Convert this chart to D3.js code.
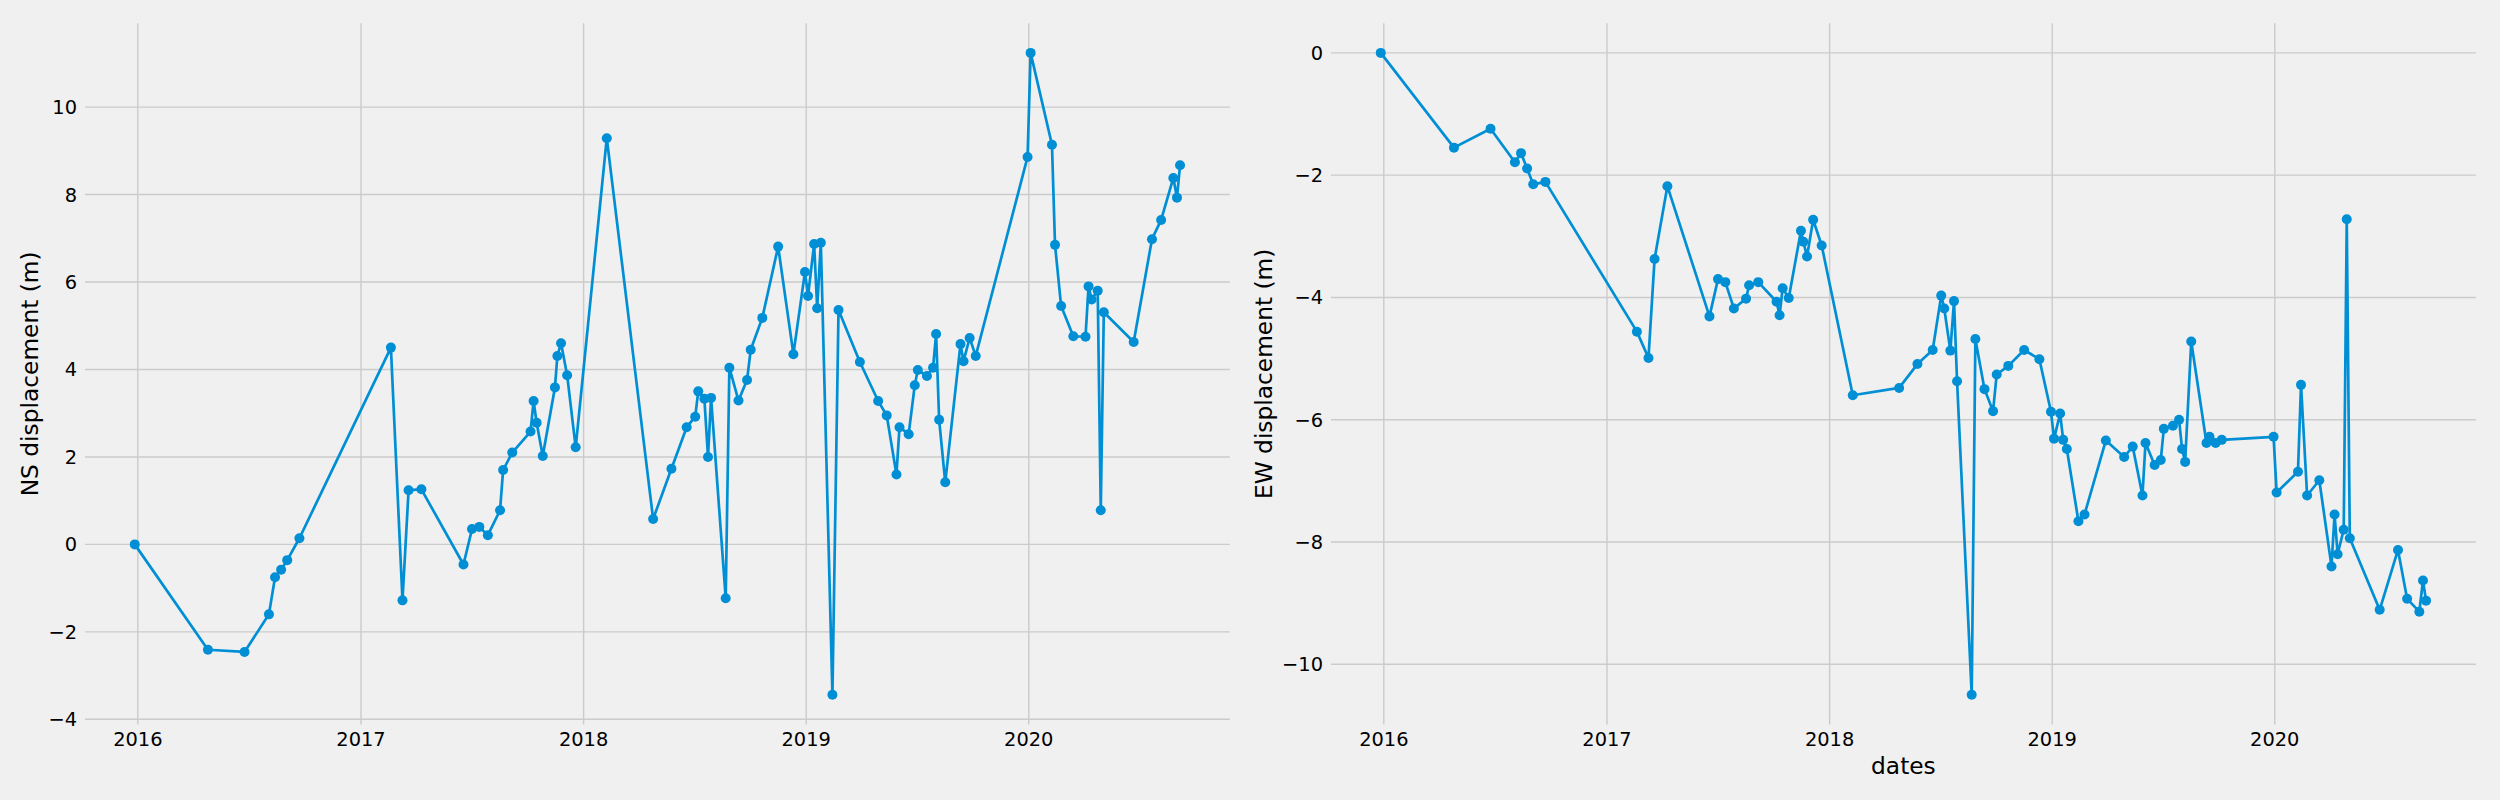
<!DOCTYPE html>
<html>
<head>
<meta charset="utf-8">
<script src="https://cdnjs.cloudflare.com/ajax/libs/d3/7.8.5/d3.min.js"></script>
<style>
    body { margin: 0; background: #f0f0f0; }
    svg { display: block; font-family: "DejaVu Sans", sans-serif; }
</style>
</head>
<body>
<svg id="chart" width="2500" height="800"></svg>
<script>
// acquisition dates, shared by both panels
const dates = [
    "2015-12-27", "2016-04-25", "2016-06-24", "2016-08-03", "2016-08-13", "2016-08-23", "2016-09-02", "2016-09-22",
    "2017-02-19", "2017-03-10", "2017-03-20", "2017-04-10", "2017-06-18", "2017-07-02", "2017-07-14", "2017-07-28",
    "2017-08-17", "2017-08-22", "2017-09-06", "2017-10-06", "2017-10-11", "2017-10-16", "2017-10-26", "2017-11-15",
    "2017-11-19", "2017-11-25", "2017-12-05", "2017-12-19", "2018-02-08", "2018-04-25", "2018-05-25", "2018-06-19",
    "2018-07-03", "2018-07-08", "2018-07-18", "2018-07-24", "2018-07-29", "2018-08-22", "2018-08-28", "2018-09-12",
    "2018-09-26", "2018-10-02", "2018-10-21", "2018-11-16", "2018-12-11", "2018-12-30", "2019-01-04", "2019-01-14",
    "2019-01-19", "2019-01-25", "2019-02-13", "2019-02-23", "2019-03-30", "2019-04-29", "2019-05-13", "2019-05-29",
    "2019-06-03", "2019-06-18", "2019-06-28", "2019-07-03", "2019-07-18", "2019-07-28", "2019-08-02", "2019-08-07",
    "2019-08-17", "2019-09-11", "2019-09-16", "2019-09-26", "2019-10-06", "2019-12-30", "2020-01-04", "2020-02-08",
    "2020-02-13", "2020-02-23", "2020-03-14", "2020-04-03", "2020-04-08", "2020-04-13", "2020-04-23", "2020-04-28",
    "2020-05-03", "2020-06-21", "2020-07-21", "2020-08-05", "2020-08-25", "2020-08-31", "2020-09-05"
];

const nsValues = [
    0, -2.41, -2.46, -1.60, -0.75, -0.58, -0.36, 0.14,
    4.50, -1.28, 1.24, 1.26, -0.46, 0.35, 0.40, 0.21,
    0.78, 1.70, 2.10, 2.58, 3.28, 2.78, 2.02, 3.59,
    4.31, 4.60, 3.87, 2.22, 9.29, 0.58, 1.73, 2.68,
    2.92, 3.50, 3.33, 2.00, 3.35, -1.23, 4.04, 3.29,
    3.76, 4.45, 5.18, 6.81, 4.35, 6.23, 5.68, 6.87,
    5.40, 6.90, -3.44, 5.36, 4.17, 3.28, 2.95, 1.60,
    2.68, 2.52, 3.64, 3.99, 3.85, 4.04, 4.81, 2.85,
    1.42, 4.58, 4.19, 4.72, 4.31, 8.86, 11.24, 9.14,
    6.85, 5.45, 4.76, 4.75, 5.90, 5.60, 5.80, 0.78,
    5.31, 4.63, 6.98, 7.42, 8.38, 7.93, 8.67
];

const ewValues = [
    0, -1.55, -1.24, -1.79, -1.64, -1.89, -2.15, -2.11,
    -4.56, -4.99, -3.37, -2.18, -4.31, -3.70, -3.75, -4.18,
    -4.02, -3.80, -3.75, -4.07, -4.29, -3.85, -4.01, -2.91,
    -3.09, -3.33, -2.73, -3.15, -5.60, -5.48, -5.09, -4.86,
    -3.97, -4.18, -4.87, -4.06, -5.37, -10.50, -4.68, -5.50,
    -5.86, -5.26, -5.12, -4.86, -5.01, -5.87, -6.31, -5.90,
    -6.33, -6.48, -7.66, -7.55, -6.34, -6.61, -6.44, -7.24,
    -6.38, -6.74, -6.66, -6.15, -6.10, -6.00, -6.48, -6.69,
    -4.72, -6.38, -6.28, -6.38, -6.33, -6.28, -7.19, -6.85,
    -5.43, -7.24, -6.99, -8.40, -7.55, -8.20, -7.80, -2.72,
    -7.94, -9.11, -8.13, -8.93, -9.14, -8.63, -8.96
];

const yearTicks = ["2016-01-01", "2017-01-01", "2018-01-01", "2019-01-01", "2020-01-01"];
const nsTicks = [-4, -2, 0, 2, 4, 6, 8, 10];
const ewTicks = [-10, -8, -6, -4, -2, 0];

const parseDate = d3.timeParse("%Y-%m-%d");
const lineColor = "#008fd5";
const gridColor = "#cbcbcb";

const svg = d3.select("#chart");
svg.append("rect")
    .attr("width", 2500)
    .attr("height", 800)
    .attr("fill", "#f0f0f0");

// matplotlib-like 5% margins around the data
function padded(extent) {
    const span = extent[1] - extent[0];
    return [extent[0] - span * 0.05, extent[1] + span * 0.05];
}

function drawPanel(left, right, values, ticks, yLabel, labelX, xLabel) {
    const top = 20.8, bottom = 726.9;
    const inset = 2.5;  // grid lines stop a bit short of the axes box
    const data = dates.map((d, i) => ({ date: parseDate(d), value: values[i] }));

    const tExtent = d3.extent(data, d => +d.date);
    const tDomain = padded(tExtent);
    const x = d3.scaleTime()
        .domain([new Date(tDomain[0]), new Date(tDomain[1])])
        .range([left, right]);
    const y = d3.scaleLinear()
        .domain(padded(d3.extent(values)))
        .range([bottom, top]);

    const g = svg.append("g");

    // grid
    g.selectAll(".vgrid")
        .data(yearTicks.map(parseDate))
        .enter()
        .append("line")
            .attr("x1", d => x(d))
            .attr("x2", d => x(d))
            .attr("y1", top + inset)
            .attr("y2", bottom - inset)
            .attr("stroke", gridColor)
            .attr("stroke-width", 1.4);
    g.selectAll(".hgrid")
        .data(ticks)
        .enter()
        .append("line")
            .attr("x1", left + inset)
            .attr("x2", right - inset)
            .attr("y1", d => y(d))
            .attr("y2", d => y(d))
            .attr("stroke", gridColor)
            .attr("stroke-width", 1.4);

    // tick labels
    const fmtY = d3.format("d");
    g.selectAll(".ytick")
        .data(ticks)
        .enter()
        .append("text")
            .attr("x", left - 5.5)
            .attr("y", d => y(d))
            .attr("dy", "0.36em")
            .attr("text-anchor", "end")
            .attr("font-size", 19.4)
            .attr("fill", "#000")
            .text(d => fmtY(d));
    g.selectAll(".xtick")
        .data(yearTicks.map(parseDate))
        .enter()
        .append("text")
            .attr("x", d => x(d))
            .attr("y", 746)
            .attr("text-anchor", "middle")
            .attr("font-size", 19.4)
            .attr("fill", "#000")
            .text(d3.timeFormat("%Y"));

    // axis titles
    g.append("text")
        .attr("transform", "translate(" + labelX + "," + ((top + bottom) / 2) + ")rotate(-90)")
        .attr("text-anchor", "middle")
        .attr("font-size", 23.3)
        .attr("fill", "#000")
        .text(yLabel);
    if (xLabel) {
        g.append("text")
            .attr("x", (left + right) / 2)
            .attr("y", 774)
            .attr("text-anchor", "middle")
            .attr("font-size", 23.3)
            .attr("fill", "#000")
            .text(xLabel);
    }

    // series
    const line = d3.line()
        .x(d => x(d.date))
        .y(d => y(d.value));
    g.append("path")
        .datum(data)
        .attr("d", line)
        .attr("fill", "none")
        .attr("stroke", lineColor)
        .attr("stroke-width", 2.7)
        .attr("stroke-linejoin", "round")
        .attr("stroke-linecap", "round");
    g.selectAll(".dot")
        .data(data)
        .enter()
        .append("circle")
            .attr("cx", d => x(d.date))
            .attr("cy", d => y(d.value))
            .attr("r", 5)
            .attr("fill", lineColor);
}

drawPanel(82.5, 1232.3, nsValues, nsTicks, "NS displacement (m)", 38, null);
drawPanel(1328.5, 2478.3, ewValues, ewTicks, "EW displacement (m)", 1271.5, "dates");
</script>
</body>
</html>
